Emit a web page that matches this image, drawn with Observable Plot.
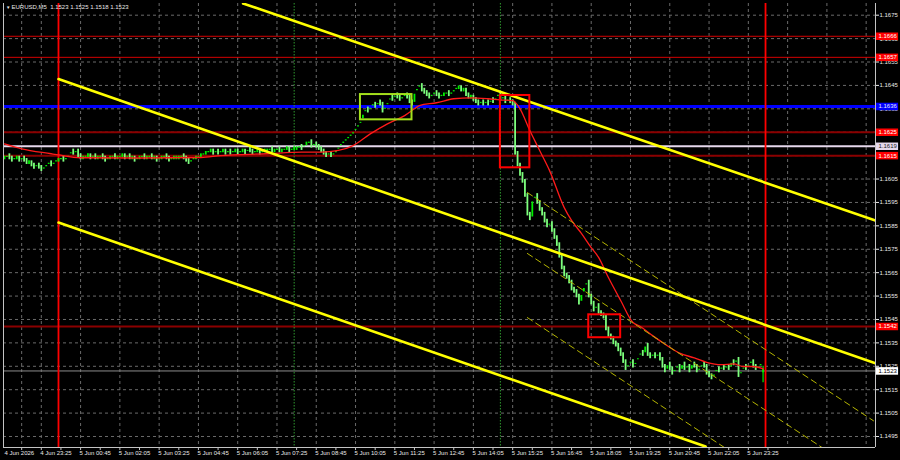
<!DOCTYPE html>
<html><head><meta charset="utf-8">
<script src="https://cdn.jsdelivr.net/npm/d3@7"></script>
<script src="https://cdn.jsdelivr.net/npm/@observablehq/plot@0.6"></script>
<style>
html,body{margin:0;padding:0;background:#000;}
#chart svg{display:block;}
</style></head><body><div id="chart"></div>
<script>
// ---------------- data ----------------
const symbol = "EURUSD,M5";
const lastBar = [1.1523, 1.1525, 1.1518, 1.1523]; // open high low close of the last bar
const firstBarTime = "2026-06-04T22:10:00Z";       // M5 bars, one every 5 minutes
const viewStart = "2026-06-04T22:08:00Z";
const viewEnd = "2026-06-06T03:44:00Z";
const priceMin = 1.14903, priceMax = 1.16800;

// closes of the M5 bars
const closesJun4 = [
  1.1614,1.1615,1.1614,1.1613,1.1614,1.1614,1.1613,1.1614,1.1613,1.1612,              // 22:10-22:55
  1.1612,1.1611,1.1610,1.1611,1.1610,1.1609,1.1610,1.1611,1.1612,1.1611,1.1612,1.1613 // 23h
];
const closesJun5Night = [
  1.1613,1.1614,1.1613,1.1614,1.1615,1.1617,1.1616,1.1617,1.1615,1.1614,1.1614,1.1615, // 00h
  1.1615,1.1614,1.1615,1.1614,1.1614,1.1615,1.1614,1.1613,1.1614,1.1614,1.1615,1.1614, // 01h
  1.1614,1.1615,1.1615,1.1614,1.1615,1.1614,1.1614,1.1613,1.1614,1.1614,1.1615,1.1614, // 02h
  1.1614,1.1615,1.1614,1.1614,1.1613,1.1614,1.1614,1.1615,1.1614,1.1613,1.1614,1.1614, // 03h
  1.1614,1.1614,1.1615,1.1614,1.1613,1.1612,1.1613,1.1614,1.1614,1.1615,1.1615,1.1616, // 04h
  1.1616,1.1617,1.1617,1.1616,1.1617,1.1616,1.1617,1.1617,1.1616,1.1617,1.1616,1.1617, // 05h
  1.1617,1.1616,1.1617,1.1617,1.1616,1.1618,1.1617,1.1616,1.1617,1.1617,1.1616,1.1617, // 06h
  1.1617,1.1617,1.1618,1.1617,1.1617,1.1618,1.1617,1.1617,1.1618,1.1618,1.1617,1.1618  // 07h
];
const closesJun5Day = [
  1.1618,1.1618,1.1619,1.1618,1.1620,1.1620,1.1621,1.1619,1.1620,1.1619,1.1618,1.1617, // 08h
  1.1616,1.1615,1.1616,1.1615,1.1616,1.1617,1.1619,1.1620,1.1621,1.1622,1.1623,1.1624, // 09h
  1.1625,1.1627,1.1628,1.1630,1.1633,1.1635,1.1634,1.1636,1.1637,1.1636,1.1638,1.1637, // 10h
  1.1634,1.1636,1.1638,1.1640,1.1639,1.1641,1.1640,1.1639,1.1640,1.1641,1.1640,1.1638, // 11h
  1.1637,1.1642,1.1644,1.1645,1.1643,1.1642,1.1641,1.1640,1.1641,1.1642,1.1641,1.1640, // 12h
  1.1641,1.1641,1.1642,1.1641,1.1642,1.1643,1.1644,1.1644,1.1643,1.1643,1.1641,1.1640, // 13h
  1.1640,1.1639,1.1638,1.1637,1.1638,1.1637,1.1638,1.1637,1.1639,1.1638,1.1640,1.1641, // 14h
  1.1639,1.1640,1.1638,1.1639,1.1638,1.1637,1.1616,1.1611,1.1607,1.1604,1.1598,1.1590  // 15h
];
const closesJun5Eve = [
  1.1588,1.1596,1.1598,1.1595,1.1592,1.1590,1.1587,1.1585,1.1586,1.1583,1.1580,1.1577, // 16h
  1.1572,1.1567,1.1564,1.1563,1.1561,1.1558,1.1557,1.1555,1.1552,1.1556,1.1559,1.1561, // 17h
  1.1555,1.1552,1.1549,1.1551,1.1548,1.1547,1.1546,1.1541,1.1538,1.1537,1.1535,1.1534, // 18h
  1.1532,1.1530,1.1527,1.1524,1.1526,1.1527,1.1525,1.1527,1.1529,1.1531,1.1530,1.1534, // 19h
  1.1530,1.1529,1.1530,1.1529,1.1530,1.1528,1.1525,1.1523,1.1526,1.1524,1.1522,1.1524, // 20h
  1.1525,1.1523,1.1526,1.1524,1.1525,1.1523,1.1526,1.1525,1.1523,1.1524,1.1526,1.1525, // 21h
  1.1522,1.1521,1.1520,1.1522,1.1524,1.1523,1.1525,1.1524,1.1525,1.1524,1.1527,1.1526, // 22h
  1.1528,1.1521,1.1523,1.1525,1.1524,1.1526,1.1527,1.1525,1.1524,1.1525,1.1526,1.1523  // 23h
];

// moving average (red line)
const maTimes = ["2026-06-04T22:10Z","2026-06-04T22:45Z","2026-06-04T23:45Z","2026-06-05T00:00Z","2026-06-05T00:45Z",
  "2026-06-05T02:45Z","2026-06-05T04:50Z","2026-06-05T05:30Z","2026-06-05T07:05Z","2026-06-05T08:15Z","2026-06-05T08:55Z",
  "2026-06-05T09:30Z","2026-06-05T10:00Z","2026-06-05T10:35Z","2026-06-05T11:10Z","2026-06-05T11:45Z","2026-06-05T12:05Z",
  "2026-06-05T12:15Z","2026-06-05T12:50Z","2026-06-05T13:25Z","2026-06-05T14:00Z","2026-06-05T14:35Z","2026-06-05T15:00Z",
  "2026-06-05T15:25Z","2026-06-05T15:40Z","2026-06-05T16:00Z","2026-06-05T16:20Z","2026-06-05T16:40Z","2026-06-05T17:10Z",
  "2026-06-05T17:25Z","2026-06-05T17:45Z","2026-06-05T18:05Z","2026-06-05T18:20Z","2026-06-05T18:40Z","2026-06-05T19:05Z",
  "2026-06-05T19:30Z","2026-06-05T19:45Z","2026-06-05T20:10Z","2026-06-05T20:40Z","2026-06-05T21:05Z","2026-06-05T21:35Z",
  "2026-06-05T22:00Z","2026-06-05T22:30Z","2026-06-05T22:55Z","2026-06-05T23:15Z","2026-06-05T23:35Z","2026-06-05T23:55Z"];
const maValues = [1.16200,1.16179,1.16158,1.16153,1.16141,
  1.16140,1.16142,1.16150,1.16158,1.16165,1.16165,
  1.16172,1.16193,1.16243,1.16286,1.16321,1.16350,
  1.16364,1.16376,1.16393,1.16397,1.16393,1.16388,
  1.16385,1.16350,1.16257,1.16172,1.16087,1.15928,
  1.15873,1.15818,1.15757,1.15715,1.15629,1.15531,
  1.15437,1.15420,1.15381,1.15338,1.15306,1.15286,
  1.15267,1.15257,1.15260,1.15249,1.15249,1.15239];

// horizontal levels
const targetLevels = [1.1666, 1.1657];
const blueLevel = [1.1636];
const supportLevels = [1.1625, 1.1615, 1.1542];
const lightLevel = [1.1619];
const currentPrice = [lastBar[3]];

// vertical markers
const dayLines = ["2026-06-05T00:00Z", "2026-06-06T00:00Z"];
const sessionLines = ["2026-06-05T08:00Z", "2026-06-05T15:00Z"];

// trend channel (yellow) : [time, price] pairs
const channelUpper  = [["2026-06-05T06:16Z", 1.16800], ["2026-06-06T03:44Z", 1.15873]];
const channelMiddle = [["2026-06-05T00:00Z", 1.16477], ["2026-06-06T03:44Z", 1.15263]];
const channelLower  = [["2026-06-05T00:00Z", 1.15864], ["2026-06-05T21:58Z", 1.14907]];
// regression channel (thin dashed yellow)
const regUpper  = [["2026-06-05T15:55Z", 1.15992], ["2026-06-06T03:40Z", 1.15017]];
const regMiddle = [["2026-06-05T15:55Z", 1.15732], ["2026-06-06T03:40Z", 1.14758]];
const regLower  = [["2026-06-05T15:55Z", 1.15458], ["2026-06-06T03:40Z", 1.14483]];

// boxes: [start, end, low, high]
const greenBox = ["2026-06-05T10:15Z", "2026-06-05T12:00Z", 1.16303, 1.16411];
const redBoxes = [
  ["2026-06-05T15:00Z", "2026-06-05T16:00Z", 1.16098, 1.16407],
  ["2026-06-05T18:00Z", "2026-06-05T19:05Z", 1.15372, 1.15470]
];

// axes
const yTicks = [1.1495,1.1505,1.1515,1.1525,1.1535,1.1545,1.1555,1.1565,1.1575,1.1585,
                1.1595,1.1605,1.1615,1.1625,1.1635,1.1645,1.1655,1.1665,1.1675];
const xLabelTimes = ["2026-06-04T23:25Z","2026-06-05T00:45Z","2026-06-05T02:05Z","2026-06-05T03:25Z",
  "2026-06-05T04:45Z","2026-06-05T06:05Z","2026-06-05T07:25Z","2026-06-05T08:45Z","2026-06-05T10:05Z",
  "2026-06-05T11:25Z","2026-06-05T12:45Z","2026-06-05T14:05Z","2026-06-05T15:25Z","2026-06-05T16:45Z",
  "2026-06-05T18:05Z","2026-06-05T19:25Z","2026-06-05T20:45Z","2026-06-05T22:05Z","2026-06-05T23:25Z"];
const extraGridTimes = ["2026-06-04T22:45Z","2026-06-06T00:45Z","2026-06-06T02:05Z","2026-06-06T03:25Z"];

// ---------------- build ----------------
const T = s => new Date(s);
const MIN = 60000;
const fmtPrice = d3.format(".4f");
const xStart = T(viewStart), xEnd = T(viewEnd);

const closes = [...closesJun4, ...closesJun5Night, ...closesJun5Day, ...closesJun5Eve];
const t0 = +T(firstBarTime);
const bars = closes.map((c, i) => {
  const last = i === closes.length - 1;
  const open = last ? lastBar[0] : (i ? closes[i - 1] : c);
  return {t: new Date(t0 + i * 5 * MIN), open, close: c, up: c >= open};
});
const lastCandle = [{t: bars[bars.length - 1].t, lo: lastBar[2], hi: lastBar[1]}];

const ma = maTimes.map((t, i) => ({t: T(t), v: maValues[i]}));
const seg = a => a.map(([t, p]) => ({t: T(t), p}));

const gridTimes = [...extraGridTimes, ...xLabelTimes].map(T);
const labelDates = xLabelTimes.map(T);
const minorTicks = labelDates.flatMap(d => [new Date(+d - 40 * MIN), d]).concat([new Date(+labelDates[labelDates.length - 1] + 40 * MIN)]);

const tagX1 = new Date(+xEnd + 2 * MIN), tagX2 = new Date(+xEnd + 47 * MIN);
const tags = [
  ...targetLevels.map(p => ({p, bg: "#ff0000", fg: "#ffffff"})),
  ...blueLevel.map(p => ({p, bg: "#0000ff", fg: "#e8e8ff"})),
  ...supportLevels.map(p => ({p, bg: "#ff0000", fg: "#ffffff"})),
  ...lightLevel.map(p => ({p, bg: "#e6d8ec", fg: "#202020"})),
  ...currentPrice.map(p => ({p, bg: "#ffffff", fg: "#000000"}))
];

const fmtTime = d3.utcFormat("%-d %b %H:%M");
const title = `${symbol}  ${lastBar.map(fmtPrice).join(" ")}`;

const grid = {stroke: "#6a6a6a", strokeWidth: 1, strokeDasharray: "3,3"};

const chart = Plot.plot({
  width: 900, height: 460,
  marginLeft: 3, marginRight: 25, marginTop: 3, marginBottom: 13,
  x: {type: "utc", domain: [xStart, xEnd], label: null},
  y: {domain: [priceMin, priceMax], label: null},
  style: {background: "#000", color: "#fff", fontFamily: "'Liberation Sans', Arial, sans-serif", fontSize: "6px", overflow: "visible"},
  marks: [
    // grid
    Plot.ruleY(yTicks, grid),
    Plot.ruleX(gridTimes, grid),
    // levels
    Plot.ruleY(targetLevels, {stroke: "#d40000", strokeWidth: 1}),
    Plot.ruleY(supportLevels, {stroke: "#8b0000", strokeWidth: 2}),
    Plot.ruleY(lightLevel, {stroke: "#e6d8ec", strokeWidth: 2}),
    Plot.ruleY(blueLevel, {stroke: "#0000ff", strokeWidth: 3}),
    Plot.ruleY(currentPrice, {stroke: "#8c8c8c", strokeWidth: 1}),
    // vertical markers
    Plot.ruleX(sessionLines.map(T), {stroke: "#2f9a2f", strokeWidth: 1, strokeDasharray: "1.5,1.5"}),
    Plot.ruleX(dayLines.map(T), {stroke: "#ff0000", strokeWidth: 1.8}),
    // candles
    Plot.ruleX(lastCandle, {x: "t", y1: "lo", y2: "hi", stroke: "#00ee00", strokeWidth: 1.2}),
    Plot.ruleX(bars, {x: "t", y1: "open", y2: "close", stroke: d => d.up ? "#00f000" : "#7dff7d",
      strokeWidth: 1.8, insetTop: -1.8, insetBottom: -1.8}),
    // moving average
    Plot.line(ma, {x: "t", y: "v", stroke: "#ff1a1a", strokeWidth: 1.3, curve: "monotone-x"}),
    // regression channel
    ...[regUpper, regMiddle, regLower].map(s => Plot.line(seg(s), {x: "t", y: "p", stroke: "#b4b400", strokeWidth: 1, strokeDasharray: "6,4", clip: true})),
    // trend channel
    ...[channelUpper, channelMiddle, channelLower].map(s => Plot.line(seg(s), {x: "t", y: "p", stroke: "#ffff00", strokeWidth: 2.6, clip: true})),
    // boxes
    Plot.rect([greenBox], {x1: d => T(d[0]), x2: d => T(d[1]), y1: d => d[2], y2: d => d[3], fill: "none", stroke: "#a4e01c", strokeWidth: 2}),
    Plot.rect(redBoxes, {x1: d => T(d[0]), x2: d => T(d[1]), y1: d => d[2], y2: d => d[3], fill: "none", stroke: "#ff0000", strokeWidth: 2}),
    // frame
    Plot.ruleX([xStart, xEnd], {stroke: "#c4c4c4", strokeWidth: 1}),
    Plot.ruleY([priceMin], {stroke: "#c4c4c4", strokeWidth: 1}),
    // axes
    Plot.axisY(yTicks, {anchor: "right", tickSize: 3, tickPadding: 1, tickFormat: fmtPrice, fontSize: 6, color: "#e8e8e8", label: null}),
    Plot.axisX(minorTicks, {anchor: "bottom", tickSize: 3, tickFormat: () => "", color: "#c4c4c4", label: null}),
    Plot.axisX(labelDates, {anchor: "bottom", tickSize: 0, tickPadding: 3, tickFormat: fmtTime, textAnchor: "start", dx: -1, fontSize: 6, color: "#e8e8e8", label: null}),
    Plot.text([d3.utcFormat("%-d %b %Y")(T(firstBarTime))], {frameAnchor: "bottom-left", dy: 3, dx: 1, lineAnchor: "top", textAnchor: "start", fontSize: 6, fill: "#e8e8e8"}),
    // price tags
    Plot.ruleY(tags, {y: "p", x1: tagX1, x2: tagX2, stroke: "bg", strokeWidth: 7.5}),
    Plot.text(tags, {y: "p", x: () => tagX1, text: d => fmtPrice(d.p), fill: "fg", textAnchor: "start", dx: 2, fontSize: 6}),
    // title
    Plot.text(["\u25BC"], {frameAnchor: "top-left", dx: 2.5, dy: 2, lineAnchor: "top", textAnchor: "start", fontSize: 4.5, fill: "#e8e8e8"}),
    Plot.text([title], {frameAnchor: "top-left", dx: 8, dy: 1.5, lineAnchor: "top", textAnchor: "start", fontSize: 6, fill: "#e8e8e8"})
  ]
});
document.getElementById("chart").appendChild(chart);
</script></body></html>
